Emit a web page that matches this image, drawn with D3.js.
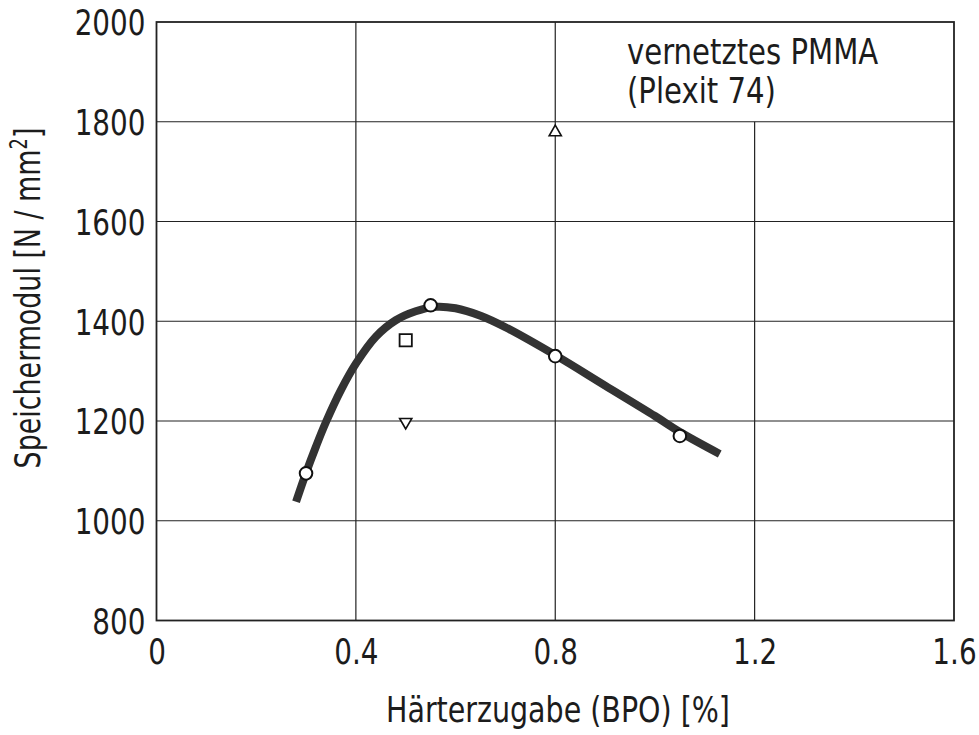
<!DOCTYPE html>
<html>
<head>
<meta charset="utf-8">
<script src="https://cdn.jsdelivr.net/npm/d3@7"></script>
<style>
  html, body { margin: 0; padding: 0; background: #fff; }
  svg text {
    font-family: "Liberation Sans Narrow", "DejaVu Sans Condensed", "Liberation Sans", sans-serif;
    fill: #1c1c1c;
  }
</style>
</head>
<body>
<svg id="chart" width="979" height="735"></svg>
<script>
// Axis ticks
const xTicks = [0, 0.4, 0.8, 1.2, 1.6];
const xTickLabels = ["0", "0.4", "0.8", "1.2", "1.6"];
const yTicks = [800, 1000, 1200, 1400, 1600, 1800, 2000];

// Measured storage modulus (open circles) vs. hardener content
const circleX = [0.30, 0.55, 0.80, 1.05];
const circleY = [1095, 1432, 1330, 1170];

// Single additional measurements
const squareX = [0.50];
const squareY = [1362];
const triDownX = [0.50];
const triDownY = [1198];
const triUpX = [0.80];
const triUpY = [1779];

// Fitted trend curve
const curveX = [0.28, 0.30, 0.32, 0.34, 0.37, 0.40, 0.44, 0.48, 0.52, 0.56, 0.60, 0.65, 0.70, 0.80, 0.90, 1.00, 1.05, 1.13];
const curveY = [1038, 1096, 1149, 1198, 1262, 1315, 1369, 1402, 1420, 1429, 1426, 1411, 1388, 1332, 1271, 1210, 1178, 1134];

const noteLines = ["vernetztes PMMA", "(Plexit 74)"];
const xTitle = "Härterzugabe (BPO) [%]";

const svg = d3.select("#chart");
const plot = { left: 156.5, right: 954, top: 22, bottom: 620.5 };

const x = d3.scaleLinear().domain([0, 1.6]).range([plot.left, plot.right]);
const y = d3.scaleLinear().domain([800, 2000]).range([plot.bottom, plot.top]);

const ink = "#222";
const fontSize = 36;
const squeeze = 0.86;   // narrow lettering

// Grid: horizontal lines span the full width
const grid = svg.append("g").attr("stroke", ink).attr("stroke-width", 1.2);
grid.selectAll("line.h")
  .data(yTicks.filter(v => v > 800 && v < 2000))
  .join("line")
  .attr("class", "h")
  .attr("x1", x(0)).attr("x2", x(1.6))
  .attr("y1", d => y(d)).attr("y2", d => y(d));

// Vertical lines; the 1.2 line stops below the annotation box
grid.selectAll("line.v")
  .data(xTicks.filter(v => v > 0 && v < 1.6))
  .join("line")
  .attr("class", "v")
  .attr("x1", d => x(d)).attr("x2", d => x(d))
  .attr("y1", y(800))
  .attr("y2", d => (d === 1.2 ? y(1800) : y(2000)));

// Frame
svg.append("rect")
  .attr("x", x(0)).attr("y", y(2000))
  .attr("width", x(1.6) - x(0)).attr("height", y(800) - y(2000))
  .attr("fill", "none").attr("stroke", ink).attr("stroke-width", 1.8);

// Axis labels via d3 axes (no tick marks, labels only)
const xAxis = d3.axisBottom(x)
  .tickValues(xTicks)
  .tickSize(0)
  .tickFormat((d, i) => xTickLabels[i]);
const gx = svg.append("g").attr("transform", `translate(0,${plot.bottom})`).call(xAxis);
gx.select(".domain").remove();
gx.selectAll("text")
  .attr("y", 44).attr("dy", null)
  .attr("transform", `scale(${squeeze},1)`)
  .style("font-size", fontSize + "px")
  .attr("text-anchor", "middle")
  .attr("fill", "#1c1c1c");

const yAxis = d3.axisLeft(y)
  .tickValues(yTicks)
  .tickSize(0)
  .tickFormat(d3.format("d"));
const gy = svg.append("g").attr("transform", `translate(${plot.left},0)`).call(yAxis);
gy.select(".domain").remove();
gy.selectAll("text")
  .attr("x", -11 / squeeze).attr("dy", "0.36em")
  .attr("transform", `scale(${squeeze},1)`)
  .style("font-size", fontSize + "px")
  .attr("fill", "#1c1c1c");

// Trend curve
const line = d3.line()
  .x(d => x(d[0]))
  .y(d => y(d[1]))
  .curve(d3.curveCatmullRom.alpha(0.5));
svg.append("path")
  .datum(curveX.map((v, i) => [v, curveY[i]]))
  .attr("d", line)
  .attr("fill", "none")
  .attr("stroke", "#333")
  .attr("stroke-width", 8)
  .attr("stroke-linecap", "butt");

// Open circles
svg.selectAll("circle.pt")
  .data(circleX.map((v, i) => [v, circleY[i]]))
  .join("circle")
  .attr("class", "pt")
  .attr("cx", d => x(d[0])).attr("cy", d => y(d[1]))
  .attr("r", 6.3)
  .attr("fill", "#fff").attr("stroke", "#111").attr("stroke-width", 2);

// Square
svg.selectAll("path.sq")
  .data(squareX.map((v, i) => [v, squareY[i]]))
  .join("path")
  .attr("class", "sq")
  .attr("transform", d => `translate(${x(d[0])},${y(d[1])})`)
  .attr("d", d3.symbol(d3.symbolSquare, 150))
  .attr("fill", "#fff").attr("stroke", "#111").attr("stroke-width", 1.8);

// Triangles
const triSize = 64;
svg.selectAll("path.tu")
  .data(triUpX.map((v, i) => [v, triUpY[i]]))
  .join("path")
  .attr("class", "tu")
  .attr("transform", d => `translate(${x(d[0])},${y(d[1])})`)
  .attr("d", d3.symbol(d3.symbolTriangle, triSize))
  .attr("fill", "#fff").attr("stroke", "#111").attr("stroke-width", 1.6);
svg.selectAll("path.td")
  .data(triDownX.map((v, i) => [v, triDownY[i]]))
  .join("path")
  .attr("class", "td")
  .attr("transform", d => `translate(${x(d[0])},${y(d[1])}) rotate(180)`)
  .attr("d", d3.symbol(d3.symbolTriangle, triSize))
  .attr("fill", "#fff").attr("stroke", "#111").attr("stroke-width", 1.6);

// Annotation
svg.append("g").selectAll("text")
  .data(noteLines)
  .join("text")
  .attr("transform", (d, i) => `translate(627,${64 + i * 39}) scale(0.9,1)`)
  .style("font-size", fontSize + "px")
  .text(d => d);

// Axis titles
svg.append("text")
  .attr("transform", `translate(558,722) scale(0.88,1)`)
  .attr("text-anchor", "middle")
  .style("font-size", fontSize + "px")
  .text(xTitle);

const yTitle = svg.append("text")
  .attr("transform", "translate(40,298) rotate(-90) scale(0.83,1)")
  .attr("text-anchor", "middle")
  .style("font-size", fontSize + "px");
yTitle.append("tspan").text("Speichermodul [N / mm");
yTitle.append("tspan").attr("dy", -13).style("font-size", "24px").text("2");
yTitle.append("tspan").attr("dy", 13).text("]");
</script>
</body>
</html>
